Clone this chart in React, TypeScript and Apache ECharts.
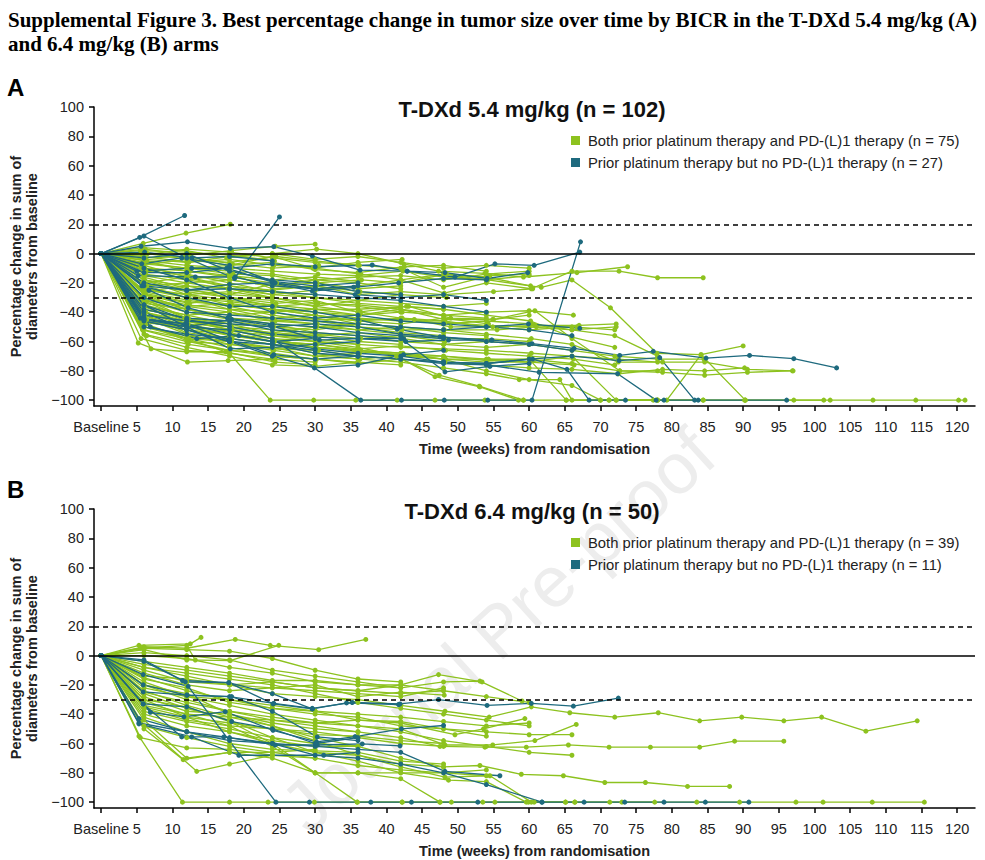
import { useRef, useEffect } from 'react'
import * as echarts from 'echarts'

const GREEN = '#8dc21f'
const BLUE = '#1e6a7e'
const SANS = '"Liberation Sans", Arial, sans-serif'
const SERIF = '"Liberation Serif", "Times New Roman", serif'

// one row per patient: week, % change, week, % change ... (baseline 0,0 is added when plotting)
const aGreen: number[][] = [
  [5.9, 7, 11.9, 14, 18.1, 20],
  [6.2, 3, 12.4, -1, 18.3, 2, 24.4, 5, 30, 6.4],
  [5.8, 4, 12, 2, 17.6, -3, 24, 0, 30.2, 3, 36, 0, 42.4, -7, 47.3, -12, 53.8, -13.5, 59.2, -16, 66.7, -13, 73.8, -9],
  [6, -2, 12.3, -6, 18, -4, 24.2, -8, 30, -10, 36.4, -14, 42, -18, 48.1, -27, 54, -20, 60.3, -24, 66, -12, 72.6, -12, 78, -16.5, 84.4, -16.5],
  [6.4, -5, 12, -8, 18.2, -10, 24, -12, 30.4, -14, 36, -15, 42.3, -12, 48, -16, 54.2, -18, 61.7, -23, 66, -18, 71.4, -37, 77.9, -68, 84.1, -69, 90.3, -100],
  [5.7, -8, 12, -4, 18, -6, 24.5, -2, 30, -5, 36.2, -8, 42, -10, 48, -23, 54.5, -15, 60, -14],
  [6.1, -10, 12.5, -12, 18, -15, 24, -18, 30, -16, 36, -19],
  [6, -3, 11.8, -2, 18.4, -7, 24, -10, 30.5, -8],
  [5.5, 2, 12, 1, 18, -1, 24.3, -5],
  [6.3, -12, 12.2, -15, 18, -18, 24, -22, 30.3, -20, 36, -24, 42, -22],
  [6, -15, 12, -20, 17.8, -24, 24.2, -26, 30, -28],
  [5.8, -6, 12, -10, 18.5, -14, 24, -15, 30, -20, 36.5, -18, 42, -20, 48.4, -14, 54, -16, 60.2, -22],
  [6.5, 0, 12.2, -4, 18, -8, 24, -2, 29.7, -10, 36, -6, 42.2, -4],
  [6, -18, 12, -22, 18, -28, 24.6, -20, 30, -24],
  [5.6, -9, 12, -18, 18.2, -14, 24, -24, 30, -22, 36.3, -26, 42, -28],
  [6, -30, 12.1, -38, 18, -42, 24, -40, 30, -45, 36, -45, 43.9, -45, 49, -50, 54.9, -50, 60.8, -49, 67, -49, 72.2, -48],
  [6.2, -28, 12, -35, 18, -38, 24.3, -40, 30, -38, 36, -38, 43.1, -36, 49, -44, 55, -45, 60.8, -39, 66, -58, 72.7, -80, 78.7, -81, 84.6, -83, 90.6, -81, 96.9, -80],
  [6, -32, 12, -40, 18.3, -45, 24, -48, 30.2, -50, 36, -52, 42, -50, 48, -52, 55.5, -52, 61, -50, 66.7, -50],
  [5.9, -25, 12.4, -28, 18, -32, 24, -35, 30, -38, 36.2, -42, 42, -40],
  [6, -35, 12, -42, 18, -48, 24.2, -50, 30, -52, 36, -48],
  [6.4, -22, 12, -30, 18.2, -33, 24, -36, 30.4, -34, 36, -35, 42, -38, 48.2, -45, 54.9, -45, 60, -42],
  [6, -38, 11.7, -44, 18, -46, 24, -50, 30, -55, 36.4, -58, 42, -56, 48.2, -60],
  [5.8, -20, 12, -26, 18, -30, 24.5, -34, 30, -32, 36, -40, 42.8, -36, 48, -38, 54, -42, 60.2, -46, 66, -57, 72, -64],
  [6, -26, 12.3, -32, 18, -36, 24, -42, 30, -46, 36, -50, 42.2, -52, 48.1, -52, 54, -55, 60.3, -58, 66, -62, 72.5, -74, 78.7, -74],
  [6.1, -40, 12, -48, 18.3, -50, 24, -52, 30, -56, 36, -60, 42, -62],
  [6, -30, 12, -36, 18, -40, 24.2, -45, 30.3, -48],
  [5.7, -24, 12, -30, 18, -38, 24, -44, 30, -42, 36.2, -46, 42, -48, 48, -44, 54.3, -48],
  [6.3, -33, 12.2, -45, 18, -50, 24, -55, 30, -56, 36, -54, 42.4, -58, 48, -62, 54, -64, 60, -62],
  [6, -36, 12, -46, 18.4, -52, 24, -54, 30.2, -50, 36, -48],
  [5.9, -42, 12, -50, 18, -55, 24.3, -60, 30, -62, 36, -65, 42, -63, 48.3, -66, 54, -68, 60, -70, 66.2, -72, 72, -76],
  [6.2, -28, 12.4, -34, 18, -30, 24, -32, 30, -36, 36.4, -40, 42, -44, 48, -48, 54, -46, 60.4, -48, 66, -52, 72, -56, 78, -70],
  [6, -44, 12, -52, 18, -55, 24, -58, 30.2, -60, 36, -62],
  [5.6, -47, 12, -50, 18.2, -53, 24, -56, 30, -58],
  [6.4, -45, 12.2, -48, 18, -60, 24, -65, 30.5, -66],
  [6, -34, 12, -38, 18, -44, 24.4, -46, 30, -44, 36, -50, 42, -54, 48, -56],
  [6.1, -18, 12, -25, 18, -28, 24, -30, 30.3, -34, 36, -36, 42.2, -40, 48, -42, 54, -44],
  [6, -27, 12, -33, 18.3, -35, 24, -38, 30, -40, 36, -44, 42, -46, 48.2, -47, 54, -49, 60, -50, 66, -52, 72.2, -50],
  [5.2, -61, 12.1, -74, 17.8, -73, 24.4, -72],
  [7, -65, 12, -67, 17.5, -67, 24.4, -74, 30, -76],
  [6, -50, 12.3, -58, 18, -64, 24, -70, 30, -72, 36, -74, 42, -76],
  [6.2, -48, 12, -58, 18, -68, 23.7, -100, 29.8, -100, 35.7, -100, 41.5, -100, 46.8, -100, 53.8, -100, 59.2, -100],
  [6, -46, 12, -52, 18.2, -58, 24, -62, 30, -68, 36, -72, 41.4, -70, 46.8, -84, 53.1, -91, 58.5, -100, 65.2, -100, 70, -100, 77.4, -100],
  [5.8, -52, 12, -60, 18, -62, 24.2, -66, 30, -70, 36.3, -72, 42, -74, 48, -78, 54, -82, 58.6, -86, 64.3, -86, 66, -100, 71.2, -100, 78, -100, 84.4, -100],
  [6, -55, 12.2, -62, 18, -66, 24, -70, 30.2, -72, 36, -75, 42, -72, 47.4, -83, 53, -90.5, 59.2, -100],
  [6.3, -40, 12, -50, 18, -56, 24, -60, 30, -64, 36, -66, 42.3, -68, 48, -70, 54, -72, 60, -72, 66, -75, 72.7, -80, 78, -80],
  [6, -42, 12, -54, 18.4, -58, 24, -62, 30, -64, 36, -67, 42, -69, 48, -72, 54.3, -72, 60, -74, 66, -70, 72.2, -100, 79.3, -100, 84.1, -69, 90, -63],
  [5.9, -50, 12, -56, 18, -60, 24, -64, 30.4, -66, 36, -70, 42, -72, 48.2, -74, 54, -76, 60, -78, 66, -79, 72.5, -82, 78.7, -79, 84.6, -80, 90.2, -78],
  [6, -38, 12.2, -44, 18, -48, 24.3, -55, 30, -58, 36, -62, 42, -64, 48, -65, 54, -66, 60.3, -68, 66, -70, 72.5, -72, 78, -74, 84.6, -74, 90.6, -79, 97, -80],
  [6.1, -44, 12, -55, 18, -62, 24, -64, 30, -70, 36.2, -68],
  [6, -36, 12, -48, 18, -54, 24, -60, 30.3, -62, 36, -66, 42, -68, 48, -72, 54, -80, 60, -86, 66, -90, 70, -100, 72.2, -100, 78, -100, 90.3, -100, 97.1, -100, 102.2, -100, 108.2, -100, 114.2, -100, 120.2, -100, 121.1, -100],
  [5.7, -30, 12, -44, 18.2, -50, 24, -56, 30, -60, 36, -64, 42, -70, 48.3, -72, 54, -74, 60, -74, 66.3, -76],
  [6.4, -56, 12, -64, 18, -70, 24, -76, 30, -77, 36, -74],
  [6, -40, 12, -46, 18, -52, 24, -58, 30, -64, 36.4, -66, 42, -70, 48, -70, 54, -73, 60, -72, 65.2, -100, 71.2, -100, 78, -100, 84.4, -100, 90.2, -100, 101.3, -100],
  [6, -48, 12.3, -60, 18, -66, 24, -68, 30, -72],
  [6.2, -14, 12, -18, 18, -22, 24, -25, 30.2, -22, 36, -28, 42, -26, 48, -28, 55, -26, 60.5, -24],
  [5.8, -1, 12, 3, 18, 1, 24, -3, 30, -6, 36, -8],
  [6, -7, 12, -10, 18.2, -8, 24, -6, 30, -11, 36, -13, 42.5, -9, 48, -8, 54, -12],
  [6, -20, 12, -16, 18, -22, 24, -28, 30, -30, 36, -32, 42, -28, 48.4, -30],
  [6.5, -24, 12, -28, 18, -26, 24, -30],
  [6, -16, 12, -24, 18, -30, 24.3, -36, 30, -40, 36, -42, 42, -38, 48, -42, 54, -40, 60, -39, 66.2, -42],
  [5.7, -10, 12, -14, 18, -20, 24, -26, 30, -30, 36, -34, 42, -36, 48, -38],
  [6, -32, 12, -36, 18, -34, 24, -38, 30, -42, 36, -46, 42.2, -44, 48, -46, 54, -50, 60, -52, 66, -50, 72, -52],
  [6.3, -22, 12, -20, 18, -18, 24, -22, 30, -18, 36, -20, 42, -24],
  [6, -12, 12.2, -10, 18, -12, 24, -14, 30, -18, 36, -16, 42, -15, 48, -18, 54, -14, 60, -12],
  [6, -36, 12, -42, 18, -40, 24, -46, 30, -48, 36, -52, 42, -55, 48, -58, 54, -58, 60, -60],
  [5.9, -46, 12, -50, 18, -52, 24, -54, 30, -56],
  [6, -28, 12, -38, 18, -44, 24, -48, 30, -54, 36, -56, 42, -60, 48, -62, 54, -60, 60, -62, 66, -66, 72, -70, 78, -72, 84.5, -72],
  [6.2, -5, 12, -12, 18, -16, 24, -20],
  [6, -18, 12, -28, 18, -35, 24, -38, 30, -42, 36, -48, 42, -50, 48, -54, 54, -56],
  [6, -52, 12, -58, 18.3, -60],
  [6.1, -42, 12, -46, 18, -50],
  [6, -8, 12, -16, 18, -24, 24, -30, 30, -36, 36, -32, 42, -34, 48, -36, 54, -34],
  [5.6, -58, 12, -66, 18, -68, 24, -72, 30, -74],
  [6, -26, 12, -22, 18, -24, 24, -28, 30, -25, 36, -22, 42, -18, 48, -14, 54, -18, 60, -15],
  [6.3, -4, 12, -6, 18, -2, 24, 0, 30, -4, 36, -2, 42, -6, 48, -10, 54, -8, 60, -10],
]

const aBlue: number[][] = [
  [5.4, 11, 11.7, 26],
  [6, 12, 12, -3, 18.7, -17, 25, 25],
  [5.6, 5, 12.1, 8, 18.1, 3.5, 24.2, 4.7, 29.6, -1.7, 36.3, -11.3, 42.9, -12, 49.6, -16, 55.2, -7, 60.7, -8, 67.1, 1],
  [6, -44, 12, -50, 18, -52, 24, -58, 36.4, -100, 42.1, -100, 48.1, -100, 54.2, -100, 60.4, -100, 67.2, 8],
  [6, -35, 12, -45, 18, -50, 24, -55, 30, -57, 36, -58, 42.7, -60, 48.7, -59, 54.8, -59, 60.4, -61.5, 66.3, -64.7, 72.7, -69.5, 77.4, -66.7, 84.8, -71.3, 90.9, -69.5, 97.1, -71.7, 103.1, -78],
  [6, -13, 12, -13, 18, -10, 24, -7, 30, -9, 38, -7.8, 42.9, -12, 48.2, -13, 54.1, -17, 59.8, -13],
  [6, -22, 12, -25, 18, -21, 24, -20, 29.6, -25.6, 35.4, -23, 41.7, -20, 48, -17, 54, -18],
  [6, -45, 12, -48, 18, -55, 24, -60, 30, -65, 36, -68, 42, -70, 48, -74, 54, -75, 60.5, -72, 65.3, -79, 68.4, -100, 73.5, -100],
  [6, -50, 12, -55, 18, -58, 24, -62, 30, -66, 36, -70, 42, -72, 48, -75, 54, -76, 61.4, -81, 72.4, -82, 77.8, -100, 78.9, -100, 83.7, -100],
  [6, -40, 12, -52, 18, -60, 24, -62, 30, -68, 36, -70, 42, -72, 48, -74, 54, -75, 60, -72, 66, -70, 72.6, -73, 78.3, -71, 83.2, -100, 96.1, -100],
  [6, -46, 12, -52, 18, -60, 24, -70, 29.9, -78, 36, -76, 42.4, -69, 48, -66],
  [6.1, 1, 12.7, -3, 18, -2, 24, -5],
  [5.7, -7, 11.3, -3, 18, -8, 24, -19, 30, -22, 36, -20],
  [5, -12, 12.7, -10, 17.6, -10, 24.4, -20, 30, -24, 35.6, -28, 42, -30, 48, -28, 54, -32],
  [5.2, -15, 13.2, -16, 18.8, -16, 24, -22, 30, -24, 36, -22],
  [5.7, -22, 12, -30, 18, -36, 24, -36, 30, -40, 36, -45, 41.5, -51.6, 47.5, -56.8, 54.7, -59],
  [6.7, -25, 12.2, -37, 17.7, -44, 24, -48, 30, -50, 36, -54, 42, -56, 48, -58],
  [6, -35, 12, -50, 18.3, -45, 23.7, -49, 30.6, -59, 36, -58, 42.4, -58],
  [5.5, -44, 11.8, -48, 17.9, -59, 24.2, -69, 30, -72, 36, -70],
  [6, -45, 12, -50, 18.1, -65, 24, -64, 30, -62, 36, -60],
  [6.9, -50, 13.4, -58, 19.3, -56, 24, -60, 30, -58],
  [6, -30, 12, -40, 18, -42, 24, -44, 30, -46, 36, -48, 42, -50, 48, -52, 54, -50, 59.9, -48, 67.1, -51],
  [6, -38, 12, -44, 18, -46, 24, -52, 30, -54, 36, -56, 42, -58, 48.2, -80.7, 54.5, -77, 60, -75],
  [6, -10, 12, -18, 18, -30, 24, -40, 30, -44, 36, -42, 42, -46, 48, -48, 54, -50, 60, -52, 66, -56],
  [6, -3, 12, 0, 18, -12, 24, -18, 30, -20, 36, -26, 42, -28],
  [6, -20, 12, -25, 18, -24, 24, -26, 30, -28, 36, -30, 42, -32, 48, -36, 54, -40],
  [6, -42, 12, -46, 18, -48, 24, -50, 30, -48, 36, -50, 42, -55, 48, -57, 54, -60, 60, -62, 66, -66],
]

const bGreen: number[][] = [
  [5.3, 7, 12.5, 8, 14, 12.4],
  [6, 6, 12, 5, 18.8, 11, 23.7, 7, 30.5, 4, 37.1, 11],
  [6, 4, 12, -3, 18.1, -3.5, 24.9, 7],
  [5.5, 5, 12, 7, 13.2, -3],
  [6, 0, 12, -2, 18, -8, 24, -12, 30, -18, 36, -20, 42, -20, 47.3, -13, 53.4, -18],
  [6, -4, 12, -8, 18, -12, 24, -17, 30, -17, 36, -20, 42, -22, 48, -18, 53.1, -17.4, 59, -31],
  [6, -8, 12, -14, 18, -20, 24, -26, 30, -28, 36, -30, 42, -34, 48.2, -38, 54.4, -42, 60.3, -35, 65.7, -39, 72, -42, 78.1, -39, 83.9, -44.5, 89.8, -42, 95.7, -44.5, 101, -42, 107.2, -51.6, 114.4, -44.5],
  [6, -10, 12, -18, 18, -20, 24, -22, 30, -24, 36, -26, 42, -28, 48, -22],
  [6, -12, 12, -20, 18, -24, 24, -22, 30, -20, 36, -28, 42, -25, 48.1, -27],
  [6, -15, 12, -24, 18, -30, 24, -34, 30, -38, 36, -44, 42, -46, 49.6, -54, 53.6, -50, 59.4, -43],
  [6, -18, 12, -28, 18, -34, 24, -40, 30, -44, 36, -48, 42, -50, 48.2, -61, 54.9, -61, 60.8, -58, 66.6, -47],
  [6, -20, 12, -30, 18, -38, 24, -44, 30, -48, 36, -52, 42, -56, 47.5, -62, 53.8, -62.5, 59.6, -62.5, 65.5, -61, 71.2, -62.5, 77, -62.5, 83.9, -62.5, 88.8, -58.4, 95.7, -58.4],
  [6, -24, 12, -34, 18, -42, 24, -48, 30, -56, 36, -62, 42, -70, 48, -76, 53.1, -75, 58.9, -81, 64.8, -82, 70.6, -86.6, 76.3, -86.6, 82.2, -89.3, 88.1, -89.3],
  [6, -26, 12, -36, 18, -44, 24, -56, 30, -66, 36, -72, 42, -80, 48.7, -85, 54, -86, 59.6, -100, 65.1, -100, 71.3, -100, 77.6, -100],
  [6, -28, 12, -38, 18, -40, 24, -48, 30, -58, 36, -68, 42, -76, 48.2, -83, 54.5, -82, 60.3, -100, 66.4, -100],
  [5.3, -55, 11.4, -100, 18, -100, 23.4, -100, 29.9, -100, 35.9, -100, 42.2, -100, 49.1, -100, 55.2, -100, 60.7, -100, 66.4, -100, 73, -100, 83.5, -100, 89.5, -100, 97.4, -100, 101.2, -100, 108.1, -100, 115.4, -100],
  [6, -30, 12, -35, 18, -45, 24, -60, 30, -80, 35.9, -100, 42.2, -100, 47.5, -100, 53.5, -100, 59.9, -100, 65.1, -100],
  [6, -32, 12, -40, 18, -48, 24, -62, 30, -80, 36, -80, 42, -84, 47.5, -100],
  [6, -35, 12, -42, 18, -46, 24, -50, 30, -52, 36, -56, 42, -60, 48, -62],
  [6, -38, 12, -45, 18, -50, 24, -56, 30, -60, 36, -62],
  [6, -40, 12, -48, 18, -52, 24, -60, 30, -66, 36, -68, 42, -74, 48, -76],
  [5.5, -56, 12, -63, 18, -64, 24, -68, 30, -70],
  [6, -44, 12, -70, 18, -66, 24, -66, 30, -64],
  [5.5, -45, 13.4, -79, 18, -74, 24, -68],
  [6, -50, 11.5, -71, 18, -66, 24, -70, 30, -80, 36, -80, 42, -80, 48, -80, 54, -78],
  [6, -6, 12, -10, 18, -14, 24, -18, 30, -22, 36, -24, 42, -26, 48, -24, 54, -28, 60, -32],
  [6, 2, 12, 0, 18, -3, 24, -10, 30, -14, 36, -18, 42, -22],
  [6, -14, 12, -16, 18, -20, 24, -18, 30, -22, 36, -24, 42, -20, 48, -24],
  [6, -22, 12, -28, 18, -30, 24, -36, 30, -38, 36, -40, 42, -42, 48, -45, 54, -48, 60, -46],
  [6, -16, 12, -22, 18, -32, 24, -36, 30, -40, 36, -42, 42, -48, 48, -50, 54, -52, 60, -54, 66, -54],
  [6, -34, 12, -40, 18, -42, 24, -44, 30, -46, 36, -44, 42, -45, 48, -50, 54, -55],
  [6, -36, 12, -44, 18, -48, 24, -50, 30, -54, 36, -55, 42, -58, 48, -60],
  [6, -42, 12, -52, 18, -60, 24, -64, 30, -65, 36, -66, 42, -72, 48, -74],
  [6, -25, 12, -32, 18, -38, 24, -42, 30, -46, 36, -48, 42, -52, 48, -58, 54, -62, 60, -66, 66, -68],
  [6, -48, 12, -56, 18, -62, 24, -66, 30, -70, 36, -75, 42, -78, 48, -80, 54, -82],
  [6, -20, 12, -26, 18, -40, 24, -46, 30, -50, 36, -52],
  [6, 5, 12, 4, 18, 3, 24, -2, 30, -10, 36, -16, 42, -18],
  [6, -8, 12, -12, 18, -16, 24, -20, 30, -26, 36, -32, 42, -36, 48, -40, 54, -44, 60, -48],
  [6, -30, 12, -42, 18, -52, 24, -58, 30, -62, 36, -62],
]

const bBlue: number[][] = [
  [5.9, -20, 12, -27, 18, -28, 24.2, -32.6, 29.6, -36, 35.2, -32, 41.9, -33, 47.3, -30, 54.1, -34, 60.3, -32.6, 66.2, -34.5, 72.5, -29],
  [5.9, -13, 12.2, -21, 24.5, -100, 29.2, -100, 37.8, -100, 43.5, -100, 52.8, -100, 61.8, -100],
  [5.3, -43, 12, -52, 18, -58, 24, -60, 30, -62, 36, -64, 42, -66, 48.2, -79, 55.9, -82],
  [5.3, -46, 12, -52, 18, -56, 24, -60, 30, -68, 36, -70, 42, -74, 48, -80, 54, -88, 61.8, -100, 67.7, -100, 73.4, -100, 78.9, -100, 84.7, -100, 90.8, -100],
  [6, -4, 11.4, -17, 17.9, -18.5, 24.1, -33, 29.6, -36.4],
  [5.9, -24.8, 12.05, -27, 18.3, -28, 24, -38, 30.3, -55.5, 36, -58],
  [6.9, -38.7, 11.6, -41.8, 17.4, -38.3, 24.1, -51, 30.2, -58.9, 35.6, -55.3, 42.1, -50, 48, -47.7],
  [5.9, -33, 11.3, -55.5, 17.2, -55.5, 24.4, -61, 30.3, -61, 36.6, -60.3, 41.9, -61.6],
  [5.3, -46.6, 12.7, -55.5, 19.3, -68, 31.2, -68, 36, -66],
  [6, -3, 11.8, -17.9, 17.9, -18.5, 24, -26, 29.6, -36.4, 34.4, -32.3, 41.7, -33.4],
  [5.9, -33, 12, -35, 18.3, -45, 24, -50, 30, -60, 36, -56],
]

const xTicks = [0, 5, 10, 15, 20, 25, 30, 35, 40, 45, 50, 55, 60, 65, 70, 75, 80, 85, 90, 95, 100, 105, 110, 115, 120]
const yTicks = [-100, -80, -60, -40, -20, 0, 20, 40, 60, 80, 100]
const refLines = [20, 0, -30]

const GRID_TOP = [107, 509]

function patientSeries(list: number[][], color: string, name: string, idx: number) {
  return list.map((p) => {
    const pts: number[][] = [[0, 0]]
    for (let i = 0; i < p.length; i += 2) pts.push([p[i], p[i + 1]])
    return {
      type: 'line',
      name,
      xAxisIndex: idx,
      yAxisIndex: idx,
      data: pts,
      symbol: 'circle',
      symbolSize: 5,
      lineStyle: { width: 1.3, color },
      itemStyle: { color },
      emphasis: { disabled: true },
      silent: true,
      z: 2,
    }
  })
}

export default function App() {
  const chartRef = useRef<HTMLDivElement>(null)

  useEffect(() => {
    if (!chartRef.current) return
    document.body.style.margin = '0'
    const chart = echarts.init(chartRef.current, undefined, { renderer: 'svg' })

    const panels = [
      { green: aGreen, blue: aBlue, dose: '5.4' },
      { green: bGreen, blue: bBlue, dose: '6.4' },
    ]

    const axisBase = {
      axisLine: { show: true, onZero: false, lineStyle: { color: '#000', width: 1.5 } },
      axisTick: { show: true, length: 5, lineStyle: { color: '#000', width: 1.5 } },
      splitLine: { show: false },
    }

    const series: any[] = []
    const legends: any[] = []
    const texts: any[] = []

    panels.forEach((pn, i) => {
      const gName = `Both prior platinum therapy and PD-(L)1 therapy (n = ${pn.green.length})`
      const bName = `Prior platinum therapy but no PD-(L)1 therapy (n = ${pn.blue.length})`
      series.push(...patientSeries(pn.green, GREEN, gName, i))
      series.push(...patientSeries(pn.blue, BLUE, bName, i))
      // reference lines at +20 %, 0 and -30 %
      series.push({
        type: 'line',
        xAxisIndex: i,
        yAxisIndex: i,
        data: [],
        z: 5,
        markLine: {
          silent: true,
          symbol: 'none',
          label: { show: false },
          data: refLines.map((v) => ({
            yAxis: v,
            lineStyle: { color: '#000', width: 1.5, type: v === 0 ? 'solid' : [5, 4] },
          })),
        },
      })
      legends.push({
        orient: 'vertical',
        left: 571,
        top: GRID_TOP[i] + 26,
        padding: 0,
        itemWidth: 9,
        itemHeight: 9,
        itemGap: 7,
        icon: 'rect',
        selectedMode: false,
        data: [gName, bName],
        textStyle: { fontFamily: SANS, fontSize: 14.8, color: '#222', padding: [0, 0, 0, 3] },
      })
      texts.push({
        type: 'text',
        x: 532,
        y: GRID_TOP[i] + 2,
        style: {
          text: `T-DXd ${pn.dose} mg/kg (n = ${pn.green.length + pn.blue.length})`,
          fontFamily: SANS,
          fontSize: 22,
          fontWeight: 'bold',
          fill: '#111',
          textAlign: 'center',
          textVerticalAlign: 'middle',
        },
      })
      texts.push({
        type: 'text',
        x: 7,
        y: GRID_TOP[i] - 20,
        style: {
          text: i === 0 ? 'A' : 'B',
          fontFamily: SANS,
          fontSize: 24,
          fontWeight: 'bold',
          fill: '#000',
          textVerticalAlign: 'middle',
        },
      })
    })

    const option: any = {
      animation: false,
      backgroundColor: '#fff',
      grid: GRID_TOP.map((t) => ({ left: 92, top: t, width: 883, height: 299 })),
      xAxis: GRID_TOP.map((_, i) => ({
        ...axisBase,
        type: 'value',
        gridIndex: i,
        min: -1,
        max: 122.5,
        axisTick: { ...axisBase.axisTick, customValues: xTicks },
        axisLabel: {
          customValues: xTicks,
          formatter: (v: number) => (v === 0 ? 'Baseline' : String(v)),
          fontFamily: SANS,
          fontSize: 14.5,
          color: '#222',
          margin: 13,
        },
        name: 'Time (weeks) from randomisation',
        nameLocation: 'middle',
        nameGap: 35,
        nameTextStyle: { fontFamily: SANS, fontSize: 14.5, fontWeight: 'bold', color: '#222' },
      })),
      yAxis: GRID_TOP.map((_, i) => ({
        ...axisBase,
        type: 'value',
        gridIndex: i,
        min: -104,
        max: 100,
        axisTick: { ...axisBase.axisTick, customValues: yTicks },
        axisLabel: {
          customValues: yTicks,
          formatter: (v: number) => (v < 0 ? '\u2212' + Math.abs(v) : String(v)),
          fontFamily: SANS,
          fontSize: 14.5,
          color: '#222',
          margin: 10,
        },
        name: 'Percentage change in sum of\ndiameters from baseline',
        nameLocation: 'middle',
        nameGap: 54,
        nameTextStyle: { fontFamily: SANS, fontSize: 14.5, fontWeight: 'bold', color: '#222', lineHeight: 16 },
      })),
      legend: legends,
      graphic: [
        {
          type: 'text',
          x: 498,
          y: 630,
          rotation: 0.74,
          z: 0,
          silent: true,
          style: {
            text: 'Journal Pre-proof',
            fontFamily: SANS,
            fontSize: 72,
            fill: '#ededed',
            textAlign: 'center',
            textVerticalAlign: 'middle',
          },
        },
        {
          type: 'text',
          x: 8,
          y: 20,
          style: {
            text: 'Supplemental Figure 3. Best percentage change in tumor size over time by BICR in the T-DXd 5.4 mg/kg (A)',
            fontFamily: SERIF,
            fontSize: 21,
            fontWeight: 'bold',
            fill: '#000',
            textVerticalAlign: 'middle',
          },
        },
        {
          type: 'text',
          x: 8,
          y: 44,
          style: {
            text: 'and 6.4 mg/kg (B) arms',
            fontFamily: SERIF,
            fontSize: 21,
            fontWeight: 'bold',
            fill: '#000',
            textVerticalAlign: 'middle',
          },
        },
        ...texts,
      ],
      series,
    }

    chart.setOption(option, true)

    return () => {
      chart.dispose()
    }
  }, [])

  return <div ref={chartRef} style={{ width: 985, height: 860 }} />
}
